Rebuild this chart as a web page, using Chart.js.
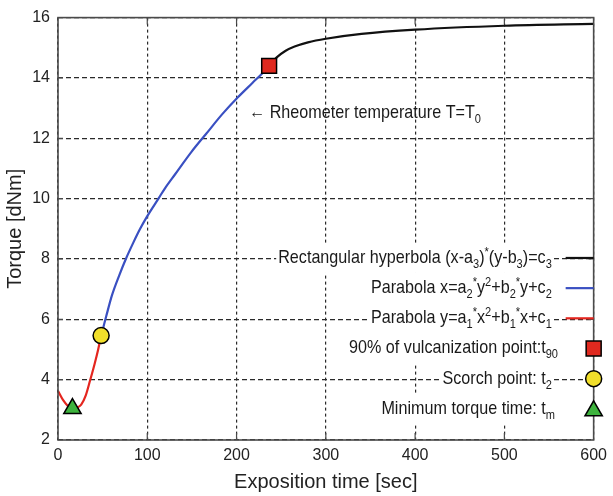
<!DOCTYPE html>
<html>
<head>
<meta charset="utf-8">
<script src="https://cdn.jsdelivr.net/npm/chart.js@4.4.1/dist/chart.umd.min.js"></script>
<style>
  html, body { margin: 0; padding: 0; background: #fff; }
</style>
</head>
<body>
<canvas id="myChart" width="613" height="496"></canvas>
<script>
// curve readings (x = sec, y = dNm)
const redX = [0, 6, 11, 16, 21, 26, 31, 36, 41, 45, 48.3];
const redY = [3.63, 3.31, 3.13, 3.05, 3.07, 3.17, 3.47, 3.98, 4.52, 5.0, 5.46];

const blueX = [48.3, 50, 54, 60.5, 68.5, 76, 84.5, 92, 100, 112.7, 120, 131, 149.5, 166, 184, 201.5, 218, 228.7, 236.5];
const blueY = [5.46, 5.65, 6.1, 6.8, 7.45, 8.0, 8.55, 9.0, 9.42, 10.01, 10.35, 10.8, 11.55, 12.15, 12.8, 13.36, 13.84, 14.15, 14.4];

const blackX = [236.5, 245, 255, 265, 280, 300, 340, 400, 500, 600];
const blackY = [14.4, 14.68, 14.9, 15.04, 15.18, 15.3, 15.46, 15.6, 15.73, 15.79];

const minTorque = [16.2, 3.04];
const scorch = [48.3, 5.46];
const t90 = [236.5, 14.4];

const xTicks = [0, 100, 200, 300, 400, 500, 600];
const yTicks = [2, 4, 6, 8, 10, 12, 14, 16];

// legend rows: [segments], segment kind 0 = normal, -1 = sub, 1 = sup
const legendRows = [
    [['Rectangular hyperbola (x-a', 0], ['3', -1], [')', 0], ['*', 1], ['(y-b', 0], ['3', -1], [')=c', 0], ['3', -1]],
    [['Parabola x=a', 0], ['2', -1], ['*', 1], ['y', 0], ['2', 1], ['+b', 0], ['2', -1], ['*', 1], ['y+c', 0], ['2', -1]],
    [['Parabola y=a', 0], ['1', -1], ['*', 1], ['x', 0], ['2', 1], ['+b', 0], ['1', -1], ['*', 1], ['x+c', 0], ['1', -1]],
    [['90% of vulcanization point:t', 0], ['90', -1]],
    [['Scorch point: t', 0], ['2', -1]],
    [['Minimum torque time: t', 0], ['m', -1]]
];
const legendRowY = [8, 7, 6, 5, 4, 3];
const legendKind = ['line', 'line', 'line', 'rect', 'circle', 'triangle'];

const annotation = [['\u2190 Rheometer temperature T=T', 0], ['0', -1]];
const annotationAt = [214, 12.86];

const RED = '#e4261f', BLUE = '#3a50c2', BLACK = '#111111';
const SQ_FILL = '#e0291f', CI_FILL = '#f1df2b', TR_FILL = '#3db33d';
const legendColors = [BLACK, BLUE, RED, SQ_FILL, CI_FILL, TR_FILL];

const SANS = '"Liberation Sans", Arial, sans-serif';
const mainFont = '19px ' + SANS;
const smallFont = '13px ' + SANS;
const SQUEEZE = 0.85; // condensed look of the original lettering

function segWidths(ctx, segs) {
    return segs.map(s => {
        ctx.font = s[1] === 0 ? mainFont : smallFont;
        return ctx.measureText(s[0]).width * SQUEEZE;
    });
}

function drawRich(ctx, segs, x, base) {
    const w = segWidths(ctx, segs);
    let cx = x;
    segs.forEach((s, i) => {
        ctx.font = s[1] === 0 ? mainFont : smallFont;
        const dy = s[1] === -1 ? 5 : (s[1] === 1 ? -7 : 0);
        ctx.save();
        ctx.translate(cx, base + dy);
        ctx.scale(SQUEEZE, 1);
        ctx.fillText(s[0], 0, 0);
        ctx.restore();
        cx += w[i];
    });
    return cx;
}

function marker(ctx, kind, x, y, fill) {
    ctx.save();
    ctx.fillStyle = fill;
    ctx.strokeStyle = '#000';
    ctx.lineWidth = 1.5;
    ctx.beginPath();
    if (kind === 'rect') {
        const s = 7.5;
        ctx.rect(x - s, y - s, 2 * s, 2 * s);
    } else if (kind === 'circle') {
        ctx.arc(x, y, 8, 0, Math.PI * 2);
    } else {
        const r = 10;
        ctx.moveTo(x, y - r);
        ctx.lineTo(x + r * Math.sin(2 * Math.PI / 3), y + r / 2);
        ctx.lineTo(x - r * Math.sin(2 * Math.PI / 3), y + r / 2);
        ctx.closePath();
    }
    ctx.fill();
    ctx.stroke();
    ctx.restore();
}

const decorations = {
    id: 'decorations',
    afterDatasetsDraw(chart) {
        const {ctx, chartArea: a, scales: {x, y}} = chart;
        ctx.save();

        // frame and inward ticks
        ctx.strokeStyle = '#4a4a4a';
        ctx.lineWidth = 1.6;
        ctx.strokeRect(a.left, a.top, a.right - a.left, a.bottom - a.top);
        ctx.lineWidth = 1.2;
        ctx.beginPath();
        xTicks.slice(1, -1).forEach(v => {
            const px = x.getPixelForValue(v);
            ctx.moveTo(px, a.bottom); ctx.lineTo(px, a.bottom - 7);
            ctx.moveTo(px, a.top); ctx.lineTo(px, a.top + 7);
        });
        yTicks.slice(1, -1).forEach(v => {
            const py = y.getPixelForValue(v);
            ctx.moveTo(a.left, py); ctx.lineTo(a.left + 5, py);
            ctx.moveTo(a.right, py); ctx.lineTo(a.right - 5, py);
        });
        ctx.stroke();

        // legend
        const anchor = a.right - 48;
        ctx.textBaseline = 'alphabetic';
        legendRows.forEach((segs, i) => {
            const rowY = y.getPixelForValue(legendRowY[i]) - 1;
            const w = segWidths(ctx, segs);
            const total = w.reduce((p, c) => p + c, 0);
            const mainW = segs[segs.length - 1][1] === -1 ? total - w[w.length - 1] : total;
            const x0 = anchor - mainW;
            ctx.fillStyle = '#fff';
            ctx.fillRect(x0 - 2, rowY - 15, total + 4, 30);
            ctx.fillStyle = '#1a1a1a';
            drawRich(ctx, segs, x0, rowY + 5);
            if (legendKind[i] === 'line') {
                ctx.strokeStyle = legendColors[i];
                ctx.lineWidth = 2.2;
                ctx.beginPath();
                ctx.moveTo(a.right - 28, rowY);
                ctx.lineTo(a.right, rowY);
                ctx.stroke();
            } else {
                marker(ctx, legendKind[i], a.right, rowY + (legendKind[i] === 'triangle' ? 2 : 0), legendColors[i]);
            }
        });

        // annotation
        ctx.fillStyle = '#1a1a1a';
        drawRich(ctx, annotation, x.getPixelForValue(annotationAt[0]), y.getPixelForValue(annotationAt[1]) + 6);

        ctx.restore();
    }
};

const toPts = (xs, ys) => xs.map((v, i) => ({x: v, y: ys[i]}));

const lineSet = (xs, ys, color) => ({
    data: toPts(xs, ys),
    showLine: true,
    borderColor: color,
    borderWidth: 2.2,
    pointRadius: 0,
    cubicInterpolationMode: 'monotone',
    order: 2
});

const pointSet = (p, style, radius, fill) => ({
    data: [{x: p[0], y: p[1]}],
    pointStyle: style,
    pointRadius: radius,
    backgroundColor: fill,
    borderColor: '#000',
    borderWidth: 1.5,
    order: 1
});

const tickFont = {family: SANS, size: 16};
const titleFont = {family: SANS, size: 20};

new Chart(document.getElementById('myChart'), {
    type: 'scatter',
    data: {
        datasets: [
            pointSet(t90, 'rect', 10.5, SQ_FILL),
            pointSet(scorch, 'circle', 8, CI_FILL),
            pointSet(minTorque, 'triangle', 10, TR_FILL),
            lineSet(redX, redY, RED),
            lineSet(blueX, blueY, BLUE),
            lineSet(blackX, blackY, BLACK)
        ]
    },
    options: {
        responsive: false,
        animation: false,
        layout: {padding: {top: 12, right: 12, left: 0, bottom: 0}},
        plugins: {legend: {display: false}, tooltip: {enabled: false}},
        scales: {
            x: {
                type: 'linear',
                min: 0,
                max: 600,
                afterBuildTicks: s => { s.ticks = xTicks.map(v => ({value: v})); },
                ticks: {font: tickFont, color: '#222', padding: 6, maxRotation: 0},
                grid: {color: '#2a2a2a', lineWidth: 1.2, drawTicks: false},
                border: {display: false, dash: [3, 3]},
                title: {display: true, text: 'Exposition time [sec]', font: titleFont, color: '#222', padding: {top: 0, bottom: 2}},
                afterFit: s => { s.height = 56; }
            },
            y: {
                min: 2,
                max: 16,
                afterBuildTicks: s => { s.ticks = yTicks.map(v => ({value: v})); },
                ticks: {font: tickFont, color: '#222', padding: 8},
                grid: {color: '#2a2a2a', lineWidth: 1.2, drawTicks: false},
                border: {display: false, dash: [5, 3]},
                title: {display: true, text: 'Torque [dNm]', font: titleFont, color: '#222', padding: {top: 3, bottom: 0}},
                afterFit: s => { s.width = 58; }
            }
        }
    },
    plugins: [decorations]
});
</script>
</body>
</html>
